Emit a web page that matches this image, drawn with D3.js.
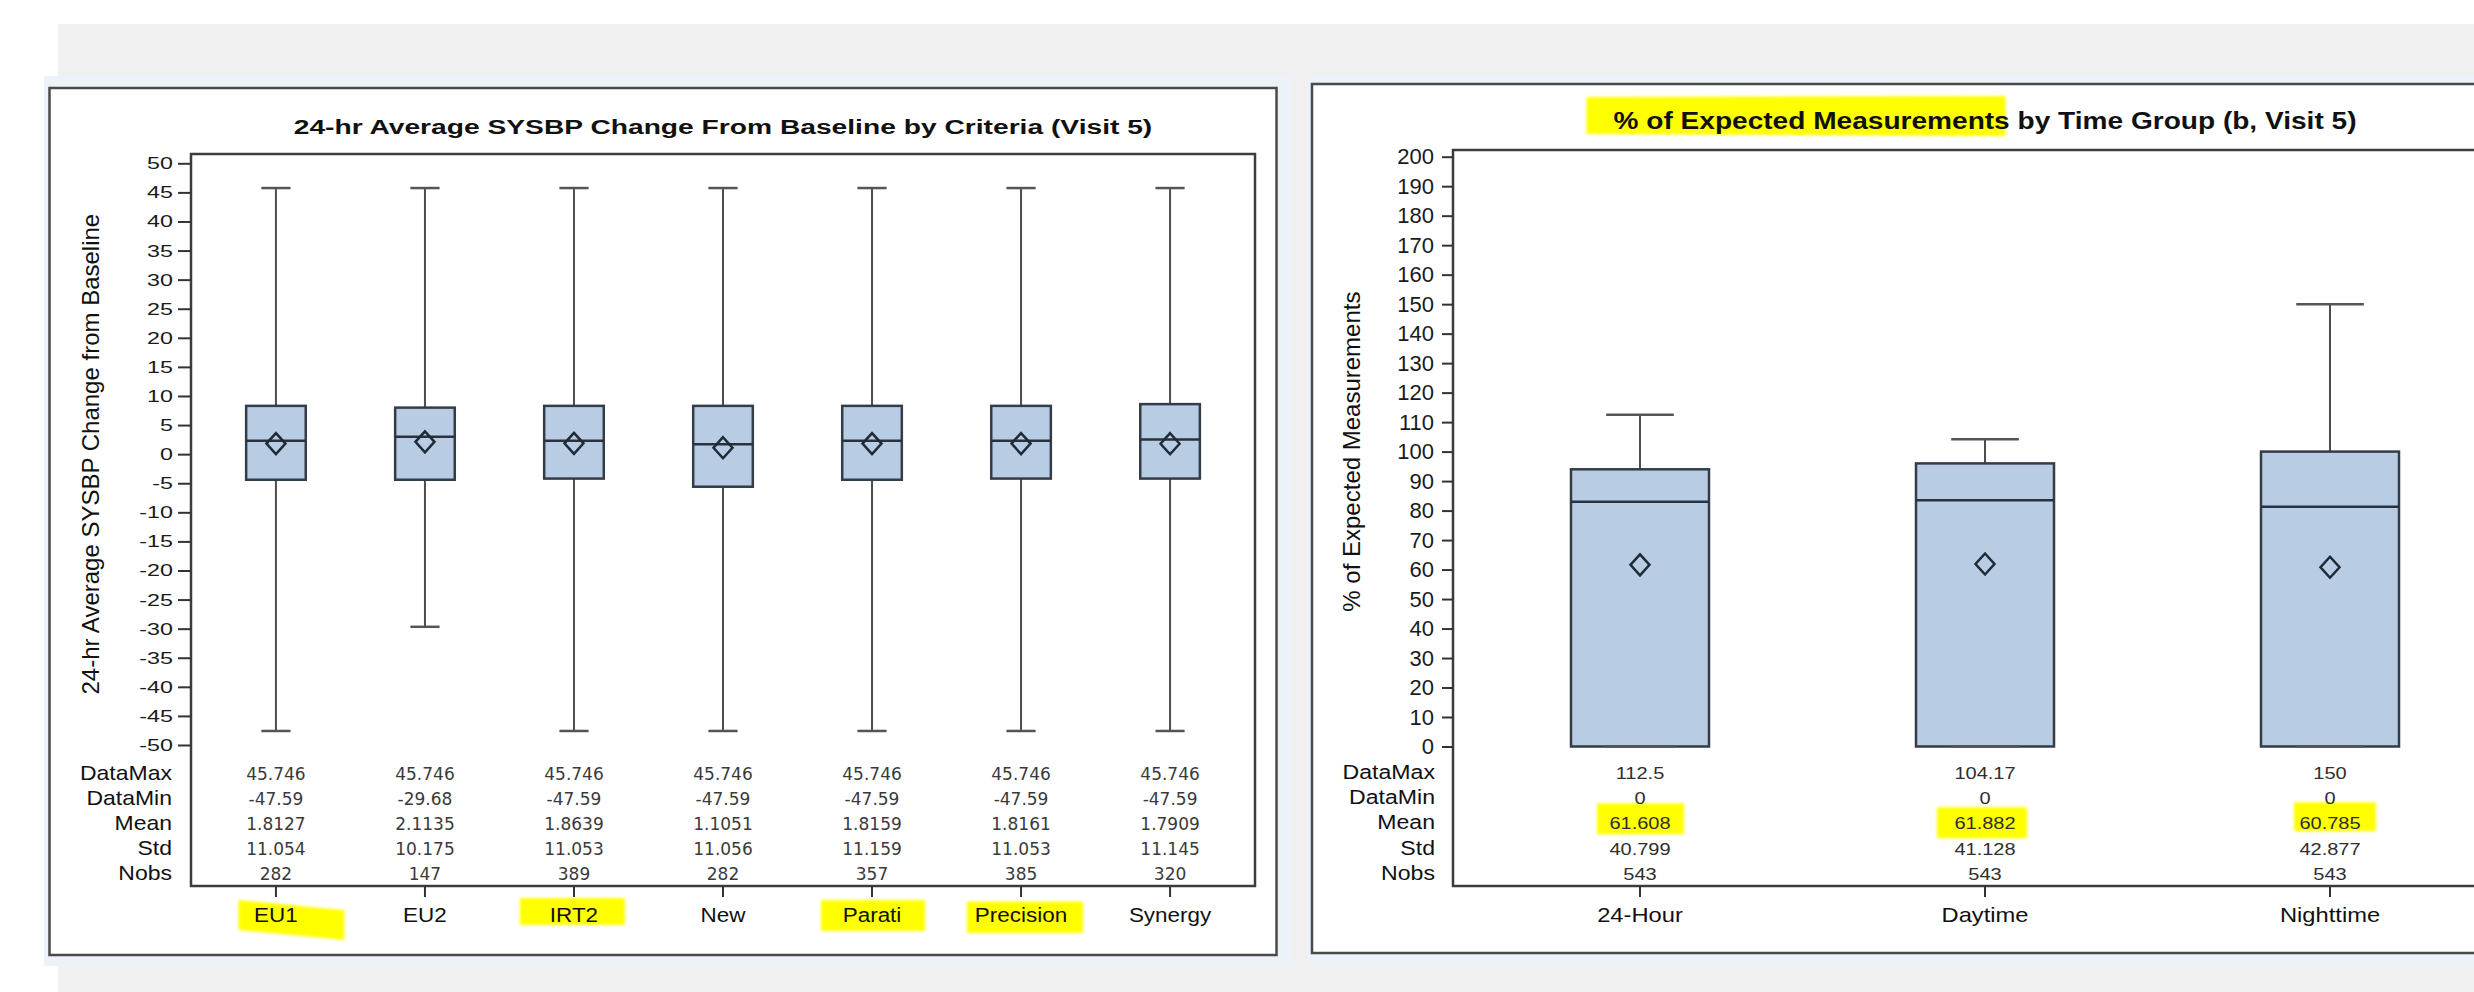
<!DOCTYPE html>
<html>
<head>
<meta charset="utf-8">
<script src="https://cdn.jsdelivr.net/npm/d3@7"></script>
<style>
  body { margin: 0; background: #ffffff; }
  svg { display: block; }
</style>
</head>
<body>
<svg id="chart" width="2474" height="992"></svg>
<script>
// ---------- Panel 1: 24-hr average SYSBP change from baseline, by criteria ----------
const criteria      = ["EU1", "EU2", "IRT2", "New", "Parati", "Precision", "Synergy"];
const critQ1        = [-4.4, -4.4, -4.2, -5.6, -4.4, -4.2, -4.2];
const critMedian    = [2.3, 3.0, 2.3, 1.7, 2.3, 2.3, 2.5];
const critQ3        = [8.3, 8.0, 8.3, 8.3, 8.3, 8.3, 8.6];
const critDataMax   = [45.746, 45.746, 45.746, 45.746, 45.746, 45.746, 45.746];
const critDataMin   = [-47.59, -29.68, -47.59, -47.59, -47.59, -47.59, -47.59];
const critMean      = [1.8127, 2.1135, 1.8639, 1.1051, 1.8159, 1.8161, 1.7909];
const critStd       = [11.054, 10.175, 11.053, 11.056, 11.159, 11.053, 11.145];
const critNobs      = [282, 147, 389, 282, 357, 385, 320];
const critTicks     = d3.range(-50, 51, 5);

// ---------- Panel 2: % of expected measurements, by time group ----------
const timeGroups    = ["24-Hour", "Daytime", "Nighttime"];
const timeQ1        = [0, 0, 0];
const timeMedian    = [83.0, 83.5, 81.3];
const timeQ3        = [94.0, 96.0, 100.0];
const timeDataMax   = [112.5, 104.17, 150];
const timeDataMin   = [0, 0, 0];
const timeMean      = [61.608, 61.882, 60.785];
const timeStd       = [40.799, 41.128, 42.877];
const timeNobs      = [543, 543, 543];
const timeTicks     = d3.range(0, 201, 10);

const statLabels    = ["DataMax", "DataMin", "Mean", "Std", "Nobs"];

// highlighted items
const markedCriteria   = ["EU1", "IRT2", "Parati", "Precision"];
const markedTimeMeans  = ["24-Hour", "Daytime", "Nighttime"];

// ---------- drawing ----------
const W = 2474, H = 992;
const SANS = "'Liberation Sans', Arial, Helvetica, sans-serif";
const WIDE = "'DejaVu Sans', Verdana, sans-serif";
const svg = d3.select("#chart");

const defs = svg.append("defs");
defs.append("filter").attr("id", "marker-soft")
  .attr("x", "-10%").attr("y", "-30%").attr("width", "120%").attr("height", "160%")
  .append("feGaussianBlur").attr("stdDeviation", 1.4);

// page backdrop
svg.append("rect").attr("x", 58).attr("y", 24).attr("width", W - 58).attr("height", H - 24).attr("fill", "#f0f0f0");
svg.append("rect").attr("x", 44).attr("y", 76).attr("width", 1246).attr("height", 890).attr("fill", "#edf2f9");
svg.append("rect").attr("x", 1307).attr("y", 76).attr("width", W - 1307).attr("height", 890).attr("fill", "#edf2f9");

// write a text horizontally stretched by sx around its anchor point
function label(g, str, x, y, o) {
  const t = g.append("text")
    .attr("transform", `translate(${x},${y}) scale(${o.sx || 1},1)`)
    .attr("text-anchor", o.anchor || "start")
    .attr("font-family", o.family || SANS)
    .attr("font-size", o.size)
    .attr("font-weight", o.weight || "normal")
    .attr("fill", o.fill || "#111")
    .text(str);
  return t;
}

function marker(layer, pts) {
  layer.append("polygon")
    .attr("points", pts.map(p => p.join(",")).join(" "))
    .attr("fill", "#ffff00")
    .attr("filter", "url(#marker-soft)");
}

function drawPanel(cfg) {
  const g = svg.append("g");
  // outer panel
  g.append("rect")
    .attr("x", cfg.panel[0]).attr("y", cfg.panel[1])
    .attr("width", cfg.panel[2] - cfg.panel[0]).attr("height", cfg.panel[3] - cfg.panel[1])
    .attr("fill", "#ffffff").attr("stroke", "#4a4a4a").attr("stroke-width", 2.5);

  const hl = g.append("g");      // highlighter strokes sit under the text

  const x = d3.scalePoint().domain(cfg.cats).range([cfg.plot.x0, cfg.plot.x1]).padding(cfg.pad);
  const y = d3.scaleLinear().domain(cfg.domain).range(cfg.yRange);
  const step = x.step();
  const bw = step * 0.4, cw = bw * 0.49;

  // plot frame
  g.append("rect")
    .attr("x", cfg.plot.x0).attr("y", cfg.plot.y0)
    .attr("width", cfg.plot.x1 - cfg.plot.x0).attr("height", cfg.plot.y1 - cfg.plot.y0)
    .attr("fill", "none").attr("stroke", "#3c3c3c").attr("stroke-width", 2.5);

  // y axis
  const ax = g.append("g").attr("transform", `translate(${cfg.plot.x0},0)`)
    .call(d3.axisLeft(y).tickValues(cfg.ticks).tickSize(cfg.tickLen).tickPadding(cfg.tickPad).tickFormat(d => String(d)));
  ax.select(".domain").remove();
  ax.selectAll(".tick line").attr("stroke", "#333").attr("stroke-width", 2);
  ax.selectAll(".tick text")
    .attr("font-family", SANS).attr("font-size", cfg.tickFont).attr("fill", "#1a1a1a")
    .attr("x", -(cfg.tickLen + cfg.tickPad) / cfg.tickSx)
    .attr("transform", `scale(${cfg.tickSx},1)`);

  // y axis title
  g.append("text")
    .attr("transform", `translate(${cfg.yTitleX},${(cfg.yRange[0] + cfg.yRange[1]) / 2}) rotate(-90)`)
    .attr("text-anchor", "middle").attr("font-family", SANS).attr("font-size", cfg.yTitleSize).attr("fill", "#111")
    .text(cfg.yTitle);

  // chart title
  const tcx = (cfg.plot.x0 + cfg.plot.x1) / 2;
  const title = label(g, cfg.title, tcx, cfg.titleY, { anchor: "middle", size: cfg.titleSize, weight: "bold", sx: cfg.titleSx });

  // x axis ticks and category labels
  const n = cfg.cats.length;
  cfg.cats.forEach(c => {
    g.append("line").attr("x1", x(c)).attr("x2", x(c)).attr("y1", cfg.plot.y1).attr("y2", cfg.plot.y1 + 11)
      .attr("stroke", "#333").attr("stroke-width", 2);
    label(g, c, x(c), cfg.catY, { anchor: "middle", size: cfg.catSize, sx: cfg.catSx });
  });

  // boxes
  const s = cfg.stats;
  cfg.cats.forEach((c, i) => {
    const cx = x(c);
    const bx = g.append("g");
    bx.append("line").attr("x1", cx).attr("x2", cx).attr("y1", y(s.max[i])).attr("y2", y(s.min[i]))
      .attr("stroke", "#4d4d4d").attr("stroke-width", 2);
    bx.append("rect").attr("x", cx - bw / 2).attr("width", bw)
      .attr("y", y(s.q3[i])).attr("height", y(s.q1[i]) - y(s.q3[i]))
      .attr("fill", "#b8cce4").attr("stroke", "#333c47").attr("stroke-width", 2.5);
    bx.append("line").attr("x1", cx - bw / 2).attr("x2", cx + bw / 2).attr("y1", y(s.median[i])).attr("y2", y(s.median[i]))
      .attr("stroke", "#2a333d").attr("stroke-width", 2.5);
    [s.max[i], s.min[i]].forEach(v => {
      bx.append("line").attr("x1", cx - cw / 2).attr("x2", cx + cw / 2).attr("y1", y(v)).attr("y2", y(v))
        .attr("stroke", "#555").attr("stroke-width", 2.5);
    });
    const my = y(s.mean[i]);
    bx.append("path")
      .attr("d", `M${cx},${my - 10.5}L${cx + 9.5},${my}L${cx},${my + 10.5}L${cx - 9.5},${my}Z`)
      .attr("fill", "none").attr("stroke", "#1e2a36").attr("stroke-width", 2.5);
  });

  // statistics table
  const rows = [s.max, s.min, s.mean, s.std, s.nobs];
  statLabels.forEach((lab, r) => {
    const ry = cfg.rowY0 + cfg.rowStep * r;
    label(g, lab, cfg.rowLabelX, ry, { anchor: "end", size: cfg.rowSize, sx: cfg.rowSx });
    cfg.cats.forEach((c, i) => {
      label(g, String(rows[r][i]), x(c), ry,
        { anchor: "middle", size: cfg.valSize, sx: cfg.valSx, family: cfg.valFamily, fill: cfg.valFill });
    });
  });

  return { g, hl, x, y, title, tcx };
}

// left panel
const P1 = drawPanel({
  panel: [49.5, 88, 1276.5, 955],
  plot: { x0: 191, x1: 1255, y0: 154, y1: 886 },
  pad: 0.57,
  cats: criteria,
  domain: [-50, 50], yRange: [745, 163.3],
  ticks: critTicks, tickLen: 13, tickPad: 5, tickFont: 17, tickSx: 1.37,
  yTitle: "24-hr Average SYSBP Change from Baseline", yTitleX: 99, yTitleSize: 24,
  title: "24-hr Average SYSBP Change From Baseline by Criteria (Visit 5)", titleY: 133.5, titleSize: 20, titleSx: 1.41,
  catY: 921.5, catSize: 21, catSx: 1.07,
  rowY0: 780, rowStep: 25, rowLabelX: 172, rowSize: 20, rowSx: 1.15,
  valSize: 17, valSx: 1.0, valFamily: WIDE, valFill: "#3a3a3a",
  stats: { q1: critQ1, median: critMedian, q3: critQ3, max: critDataMax, min: critDataMin,
           mean: critMean, std: critStd, nobs: critNobs }
});

// right panel
const P2 = drawPanel({
  panel: [1312, 84, 2600, 953],
  plot: { x0: 1453, x1: 2517, y0: 150, y1: 886 },
  pad: 0.542,
  cats: timeGroups,
  domain: [0, 200], yRange: [746.5, 156.7],
  ticks: timeTicks, tickLen: 11, tickPad: 8, tickFont: 22, tickSx: 1.0,
  yTitle: "% of Expected Measurements", yTitleX: 1360, yTitleSize: 24,
  title: "% of Expected Measurements by Time Group (b, Visit 5)", titleY: 128.5, titleSize: 24, titleSx: 1.17,
  catY: 921.5, catSize: 21, catSx: 1.13,
  rowY0: 778.5, rowStep: 25.4, rowLabelX: 1435, rowSize: 21, rowSx: 1.1,
  valSize: 16, valSx: 1.25, valFamily: SANS, valFill: "#2e2e2e",
  stats: { q1: timeQ1, median: timeMedian, q3: timeQ3, max: timeDataMax, min: timeDataMin,
           mean: timeMean, std: timeStd, nobs: timeNobs }
});

// ---------- highlighter strokes ----------
const catMarks = {
  "EU1":       [[-37.5, -21.5], [45, -13.5], [68.5, -11.5], [68.5, 18.5], [-37.5, 8.5]],
  "IRT2":      [[-54, -23.5], [51, -23.5], [51, 3.5], [-54, 3.5]],
  "Parati":    [[-51, -21.5], [53, -21.5], [53, 9.5], [-51, 9.5]],
  "Precision": [[-54, -20], [62, -20], [62, 11.5], [-54, 11.5]]
};
markedCriteria.forEach(c => {
  const cx = P1.x(c), by = 921.5;
  marker(P1.hl, catMarks[c].map(([dx, dy]) => [cx + dx, by + dy]));
});

const meanMarks = {
  "24-Hour":   [-43, 44, -26, 5],
  "Daytime":   [-48, 42, -22, 9],
  "Nighttime": [-36, 46, -27, 2]
};
const meanRowY = 778.5 + 25.4 * 2;
markedTimeMeans.forEach(c => {
  const cx = P2.x(c), [a, b, t, u] = meanMarks[c];
  marker(P2.hl, [[cx + a, meanRowY + t], [cx + b, meanRowY + t], [cx + b, meanRowY + u], [cx + a, meanRowY + u]]);
});

// title phrase "% of Expected Measurements"
{
  const tb = P2.title.node().getBBox();
  const sx = 1.17;
  const left = P2.tcx + tb.x * sx;
  marker(P2.hl, [[left - 27, 97], [left + 392, 96], [left + 392, 136], [left - 27, 134]]);
}
</script>
</body>
</html>
